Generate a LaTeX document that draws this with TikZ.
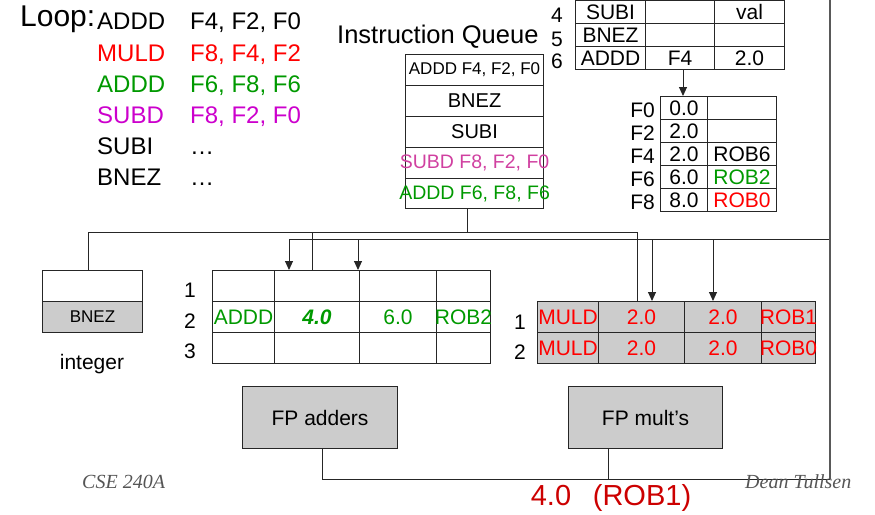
\documentclass[tikz,border=0pt]{standalone}
\usepackage{fontspec}
\setmainfont{Liberation Sans}
\newfontfamily\footfont{Liberation Serif}
\usetikzlibrary{arrows.meta}
\definecolor{cred}{HTML}{FF0000}
\definecolor{cgreen}{HTML}{009900}
\definecolor{cmag}{HTML}{CC00CC}
\definecolor{cpink}{HTML}{D040A0}
\definecolor{cdark}{HTML}{CC0000}
\definecolor{cgray}{HTML}{CCCCCC}
\definecolor{cfoot}{HTML}{555555}
\newcommand\fs[1]{\fontsize{#1}{#1}\selectfont}
\newcommand\zb[1]{\makebox[0pt][c]{#1}}
\begin{document}
\begin{tikzpicture}[x=1pt,y=-1pt,
  cell/.style={draw=black!85,line width=1.1pt,inner sep=0pt,anchor=north west},
  lbl/.style={inner sep=0pt},
  bus/.style={line width=1pt,draw=black!85},
  rail/.style={line width=1.6pt,draw=black!65},
  arr/.style={bus,-{Triangle[length=9pt,width=8pt]}},
  gcell/.style={cell,fill=cgray}]
\useasboundingbox (0,0) rectangle (875,514);

% ---- code listing
\node[lbl,anchor=base west,font=\fs{30}] (loop) at (20,27) {Loop:};
\begin{scope}[every node/.style={lbl,anchor=base west,font=\fs{24}}]
\node (o1) at (97,29) {ADDD};  \node (p1) at (190,29) {F4, F2, F0};
\node[text=cred] (o2) at (97,61) {MULD};  \node[text=cred] (p2) at (190,61) {F8, F4, F2};
\node[text=cgreen] (o3) at (97,92) {ADDD};  \node[text=cgreen] (p3) at (190,92) {F6, F8, F6};
\node[text=cmag] (o4) at (97,123) {SUBD};  \node[text=cmag] (p4) at (190,123) {F8, F2, F0};
\node (o5) at (97,154) {SUBI};  \node (p5) at (190,154) {…};
\node (o6) at (97,185) {BNEZ};  \node (p6) at (190,185) {…};
\end{scope}

% ---- instruction queue
\node[lbl,anchor=base west,font=\fs{25.5}] (iqlabel) at (337,43) {Instruction Queue};
\node[cell,minimum width=138pt,minimum height=31pt,font=\fs{17}] (q1) at (405,54) {\zb{ADDD F4, F2, F0}};
\node[cell,minimum width=138pt,minimum height=31pt,font=\fs{20}] (q2) at (405,85) {BNEZ};
\node[cell,minimum width=138pt,minimum height=31pt,font=\fs{20}] (q3) at (405,116) {SUBI};
\node[cell,minimum width=138pt,minimum height=31pt,font=\fs{19.5},text=cpink] (q4) at (405,147) {\zb{SUBD F8, F2, F0}};
\node[cell,minimum width=138pt,minimum height=30pt,font=\fs{19.5},text=cgreen] (q5) at (405,178) {\zb{ADDD F6, F8, F6}};

% ---- ROB
\begin{scope}[every node/.append style={font=\fs{21}}]
\node[cell,minimum width=70pt,minimum height=23pt] (r4a) at (575,0) {SUBI};
\node[cell,minimum width=69pt,minimum height=23pt] (r4b) at (645,0) {};
\node[cell,minimum width=70pt,minimum height=23pt] (r4c) at (714,0) {val};
\node[cell,minimum width=70pt,minimum height=23pt] (r5a) at (575,23) {BNEZ};
\node[cell,minimum width=69pt,minimum height=23pt] (r5b) at (645,23) {};
\node[cell,minimum width=70pt,minimum height=23pt] (r5c) at (714,23) {};
\node[cell,minimum width=70pt,minimum height=23pt] (r6a) at (575,46) {\zb{ADDD}};
\node[cell,minimum width=69pt,minimum height=23pt] (r6b) at (645,46) {F4};
\node[cell,minimum width=70pt,minimum height=23pt] (r6c) at (714,46) {2.0};
\node[lbl,anchor=base] (n4) at (557,22) {4};
\node[lbl,anchor=base] (n5) at (557,46) {5};
\node[lbl,anchor=base] (n6) at (557,68) {6};
\end{scope}

% ---- register file
\begin{scope}[every node/.append style={font=\fs{21}}]
\node[cell,minimum width=47pt,minimum height=23pt] (f0a) at (660,96) {0.0};
\node[cell,minimum width=69pt,minimum height=23pt] (f0b) at (707,96) {};
\node[cell,minimum width=47pt,minimum height=23pt] (f2a) at (660,119) {2.0};
\node[cell,minimum width=69pt,minimum height=23pt] (f2b) at (707,119) {};
\node[cell,minimum width=47pt,minimum height=23pt] (f4a) at (660,142) {2.0};
\node[cell,minimum width=69pt,minimum height=23pt] (f4b) at (707,142) {ROB6};
\node[cell,minimum width=47pt,minimum height=23pt] (f6a) at (660,165) {6.0};
\node[cell,minimum width=69pt,minimum height=23pt,text=cgreen] (f6b) at (707,165) {ROB2};
\node[cell,minimum width=47pt,minimum height=23pt] (f8a) at (660,188) {8.0};
\node[cell,minimum width=69pt,minimum height=23pt,text=cred] (f8b) at (707,188) {ROB0};
\node[lbl,anchor=base east] (lf0) at (655,117) {F0};
\node[lbl,anchor=base east] (lf2) at (655,140) {F2};
\node[lbl,anchor=base east] (lf4) at (655,163) {F4};
\node[lbl,anchor=base east] (lf6) at (655,186) {F6};
\node[lbl,anchor=base east] (lf8) at (655,209) {F8};
\end{scope}

% ---- integer unit
\node[cell,minimum width=100pt,minimum height=31pt] (ia) at (42,270) {};
\node[gcell,minimum width=100pt,minimum height=31pt,font=\fs{17}] (ib) at (42,301) {BNEZ};
\node[lbl,anchor=base,font=\fs{21}] (intlabel) at (92,369) {integer};

% ---- adder reservation stations
\begin{scope}[every node/.append style={font=\fs{21}}]
\node[cell,minimum width=62pt,minimum height=31pt] (a11) at (212,270) {};
\node[cell,minimum width=85pt,minimum height=31pt] (a12) at (274,270) {};
\node[cell,minimum width=77pt,minimum height=31pt] (a13) at (359,270) {};
\node[cell,minimum width=54pt,minimum height=31pt] (a14) at (436,270) {};
\node[cell,minimum width=62pt,minimum height=31pt,text=cgreen] (a21) at (212,301) {\zb{ADDD}};
\node[cell,minimum width=85pt,minimum height=31pt,text=cgreen] (a22) at (274,301) {\textbf{\textit{4.0}}};
\node[cell,minimum width=77pt,minimum height=31pt,text=cgreen] (a23) at (359,301) {6.0};
\node[cell,minimum width=54pt,minimum height=31pt,text=cgreen] (a24) at (436,301) {\zb{ROB2}};
\node[cell,minimum width=62pt,minimum height=31pt] (a31) at (212,332) {};
\node[cell,minimum width=85pt,minimum height=31pt] (a32) at (274,332) {};
\node[cell,minimum width=77pt,minimum height=31pt] (a33) at (359,332) {};
\node[cell,minimum width=54pt,minimum height=31pt] (a34) at (436,332) {};
\node[lbl,anchor=base] (na1) at (190,297) {1};
\node[lbl,anchor=base] (na2) at (190,328) {2};
\node[lbl,anchor=base] (na3) at (190,358) {3};
\end{scope}

% ---- multiplier reservation stations
\begin{scope}[every node/.append style={font=\fs{21}}]
\node[gcell,minimum width=61pt,minimum height=31pt,text=cred] (m11) at (537,301) {\zb{MULD}};
\node[gcell,minimum width=86pt,minimum height=31pt,text=cred] (m12) at (598,301) {2.0};
\node[gcell,minimum width=77pt,minimum height=31pt,text=cred] (m13) at (684,301) {2.0};
\node[gcell,minimum width=54pt,minimum height=31pt,text=cred] (m14) at (761,301) {\zb{ROB1}};
\node[gcell,minimum width=61pt,minimum height=31pt,text=cred] (m21) at (537,332) {\zb{MULD}};
\node[gcell,minimum width=86pt,minimum height=31pt,text=cred] (m22) at (598,332) {2.0};
\node[gcell,minimum width=77pt,minimum height=31pt,text=cred] (m23) at (684,332) {2.0};
\node[gcell,minimum width=54pt,minimum height=31pt,text=cred] (m24) at (761,332) {\zb{ROB0}};
\node[lbl,anchor=base] (nm1) at (520,329) {1};
\node[lbl,anchor=base] (nm2) at (520,359) {2};
\end{scope}

% ---- functional units
\node[gcell,minimum width=155pt,minimum height=62pt,font=\fs{21}] (fpa) at (242,386) {FP adders};
\node[gcell,minimum width=154pt,minimum height=62pt,font=\fs{21}] (fpm) at (568,386) {FP mult’s};

% ---- issue bus
\coordinate (issue) at (467,232);
\coordinate (tapI) at (88,232);
\coordinate (tapA) at (312,232);
\coordinate (tapM) at (637,232);
\draw[bus] (issue |- q5.south) -- (issue);
\draw[bus] (tapI |- ia.north) -- (tapI) -- (tapM) -- (tapM |- m12.north);
\draw[bus] (tapA) -- (tapA |- a12.north);

% ---- ROB to register file
\coordinate (robout) at (683,69);
\draw[arr] (robout) -- (robout |- f0a.north);

% ---- common data bus
\coordinate (cdbA1) at (289,239);
\coordinate (cdbA2) at (358,239);
\coordinate (cdbM1) at (652,239);
\coordinate (cdbM2) at (713,239);
\coordinate (rcorner) at (830,239);
\coordinate (rtop) at (830,0);
\coordinate (rbot) at (830,479);
\coordinate (stemA) at (322,479);
\coordinate (stemM) at (608,479);
\draw[bus] (cdbA1) -- (rcorner);
\draw[arr] (cdbA1) -- (cdbA1 |- a12.north);
\draw[arr] (cdbA2) -- (cdbA2 |- a13.north);
\draw[arr] (cdbM1) -- (cdbM1 |- m12.north);
\draw[arr] (cdbM2) -- (cdbM2 |- m13.north);
\draw[rail] (rtop) -- (rbot);
\draw[bus] (stemA |- fpa.south) -- (stemA) -- (rbot);
\draw[bus] (stemM |- fpm.south) -- (stemM);

% ---- result and footer
\node[lbl,anchor=base,font=\fs{29},text=cdark] (res) at (611,505) {4.0\hspace{0.75em}(ROB1)};
\node[lbl,anchor=base west,font=\footfont\itshape\fs{20},text=cfoot] (cse) at (82,488) {CSE 240A};
\node[lbl,anchor=base west,font=\footfont\itshape\fs{20},text=cfoot] (dean) at (745,488) {Dean Tullsen};
\end{tikzpicture}
\end{document}
